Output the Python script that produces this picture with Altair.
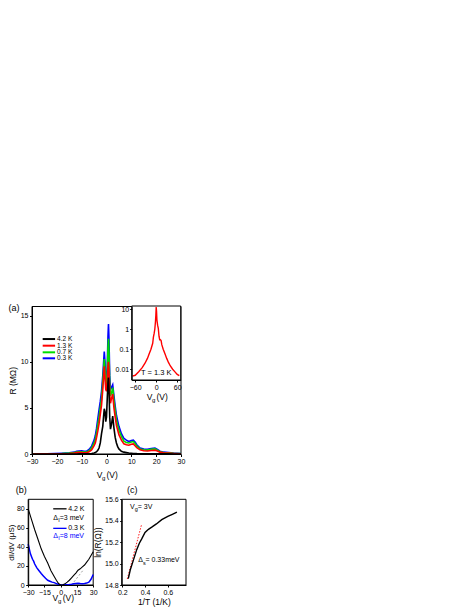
import altair as alt
import pandas as pd

# ---------------- data ----------------
# (a) main panel: R (MOhm) vs Vg (V)
V_MAIN = [-30, -27, -24, -21, -18, -15, -13, -12, -11, -10, -9, -8, -7, -6, -5,
          -4.5, -4, -3.5, -3, -2.5, -2, -1.5, -1.2, -0.9, -0.6, -0.3,
          0, 0.3, 0.6, 0.8, 1.0, 1.3, 1.6, 2.0, 2.5, 3.0, 3.5, 4.0, 4.5, 5.0,
          6, 7, 8, 9, 10, 10.8, 11.5, 12.2, 13.5,
          15, 16.5, 18, 19.5, 20.5, 21.5, 23, 25, 27, 30]
R_03K = [0.02, 0.02, 0.03, 0.05, 0.08, 0.12, 0.2, 0.3, 0.33, 0.35, 0.3, 0.3, 0.5, 0.85, 1.5,
         2.0, 2.8, 3.8, 4.8, 5.7, 6.8, 8.5, 9.8, 11.1, 10.0, 8.0,
         7.8, 9.5, 12.8, 14.1, 12.5, 8.5, 7.0, 7.2, 7.5, 6.3, 5.2, 4.2, 3.6, 3.0,
         2.2, 1.7, 1.5, 1.35, 1.45, 1.5, 1.3, 1.0, 0.65,
         0.55, 0.5, 0.6, 0.65, 0.5, 0.3, 0.2, 0.15, 0.1, 0.05]
R_07K = [0.01, 0.01, 0.02, 0.03, 0.05, 0.09, 0.15, 0.22, 0.25, 0.25, 0.2, 0.22, 0.35, 0.65, 1.2,
         1.6, 2.3, 3.2, 4.0, 5.0, 6.0, 7.8, 9.0, 10.3, 9.2, 7.5,
         7.3, 8.8, 11.5, 12.5, 11.0, 7.5, 6.3, 6.6, 7.2, 5.8, 4.7, 3.7, 3.1, 2.6,
         1.9, 1.4, 1.25, 1.2, 1.3, 1.35, 1.15, 0.85, 0.55,
         0.45, 0.42, 0.5, 0.55, 0.42, 0.25, 0.16, 0.12, 0.08, 0.04]
R_13K = [0.0, 0.01, 0.01, 0.02, 0.03, 0.05, 0.1, 0.15, 0.18, 0.15, 0.12, 0.15, 0.25, 0.45, 0.9,
         1.2, 1.8, 2.5, 3.3, 4.3, 5.3, 7.0, 8.3, 9.5, 8.3, 7.0,
         6.8, 7.8, 9.5, 10.0, 9.0, 6.5, 5.5, 6.0, 6.5, 5.0, 4.0, 3.1, 2.6, 2.1,
         1.5, 1.1, 1.0, 0.95, 1.05, 1.1, 0.9, 0.7, 0.45,
         0.35, 0.32, 0.38, 0.42, 0.32, 0.2, 0.12, 0.09, 0.06, 0.03]
R_42K = [0.0, 0.0, 0.0, 0.0, 0.0, 0.0, 0.0, 0.0, 0.01, 0.01, 0.01, 0.02, 0.03, 0.05, 0.1,
         0.15, 0.25, 0.4, 0.65, 1.2, 2.2, 3.0, 4.0, 4.9, 4.6, 3.5,
         4.0, 6.0, 7.8, 8.3, 7.0, 4.0, 2.7, 3.2, 4.1, 2.8, 1.8, 1.2, 0.8, 0.55,
         0.3, 0.2, 0.15, 0.1, 0.07, 0.05, 0.05, 0.04, 0.03,
         0.02, 0.02, 0.02, 0.02, 0.02, 0.01, 0.01, 0.01, 0.0, 0.0]
TEMP_LABELS = ["4.2 K", "1.3 K", "0.7 K", "0.3 K"]
TEMP_COLORS = ["#000000", "#ff0000", "#00dd00", "#0000ff"]

# (a) inset: R (MOhm, log) vs Vg at T = 1.3 K
V_INSET = [-68, -60, -50, -40, -32, -25, -20, -15, -10, -8, -6, -4, -2, -1, 0,
           1, 2, 4, 6, 8, 10, 12, 14, 16, 20, 25, 30, 35, 40, 47, 53, 60, 66]
R_INSET = [0.0045, 0.005, 0.0075, 0.012, 0.02, 0.035, 0.06, 0.1, 0.2, 0.4, 0.6, 1.0, 2.5, 5, 13,
           8, 3.0, 1.6, 1.1, 0.45, 0.3, 0.3, 0.27, 0.17, 0.1, 0.06, 0.035, 0.022, 0.015, 0.01,
           0.0076, 0.0055, 0.0048]

# (b) dI/dV (uS) vs Vg
V_B_42K = [-30, -27, -24, -21, -18, -15, -12, -9, -6, -4, -2, 0, 2, 4, 6, 8, 10, 12, 14, 16,
           18, 20, 22, 24, 26, 28, 30]
G_42K = [80, 69, 58, 48, 38, 30, 23, 15, 9, 5, 1.5, 0, 0.2, 1.2, 3, 5, 7.5, 10, 12.5, 15.5,
         17, 19, 21, 24, 27, 31, 35]
V_B_03K = [-30, -29, -28, -27, -26, -25, -24, -22, -20, -18, -16, -14, -12, -10, -8, -6, -4, -2,
           0, 2, 4, 6, 8, 10, 12, 14, 16, 18, 20, 22, 24, 26, 28, 30]
G_03K = [43, 38, 33, 30, 27, 25, 22, 18, 15, 12, 9.5, 7, 5, 4, 3, 2.5, 1.5, 0.5,
         0, 0, 0.2, 0.3, 0.5, 0.8, 1.2, 1.5, 1.8, 1.5, 1.3, 1.5, 2, 3, 6, 11]
FIT_B_V = [10, 21]
FIT_B_G = [0, 16]

# (c) ln R vs 1/T at Vg = 3 V
INV_T = [0.253, 0.27, 0.297, 0.327, 0.35, 0.371, 0.40, 0.43, 0.459, 0.5, 0.547, 0.6, 0.64, 0.68]
LN_R = [14.86, 14.94, 15.03, 15.13, 15.19, 15.23, 15.29, 15.32, 15.34, 15.37, 15.41, 15.44, 15.46, 15.48]
FIT_C_X = [0.244, 0.371]
FIT_C_Y = [14.856, 15.37]

# ---------------- layout helpers ----------------
FONT = "Liberation Sans"
W, H = 200, 599


def lin(domain, rng):
    return alt.Scale(domain=domain, range=rng, nice=False, zero=False)


def axis(orient, offset, values, title=None, fmt=None, tick=2.5, pad=1.5, tpad=2, tsize=None):
    kw = dict(orient=orient, offset=offset, values=values, tickSize=tick, labelPadding=pad,
              grid=False, labelOverlap=False, labelFlush=False, zindex=1)
    if title is not None:
        kw["title"] = title
        kw["titlePadding"] = tpad
        if tsize is not None:
            kw["titleFontSize"] = tsize
    else:
        kw["title"] = None
    if fmt is not None:
        kw["format"] = fmt
    return alt.Axis(**kw)


def frame(x0, x1, y0, y1, sx, sy, xaxis, yaxis, fill_opacity=0.0):
    df = pd.DataFrame({"x": [x0], "x2": [x1], "y": [y0], "y2": [y1]})
    return alt.Chart(df).mark_rect(fill="white", fillOpacity=fill_opacity, stroke="black",
                                   strokeWidth=1).encode(
        x=alt.X("x:Q", scale=sx, axis=xaxis), x2="x2:Q",
        y=alt.Y("y:Q", scale=sy, axis=yaxis), y2="y2:Q")


def curve(xs, ys, sx, sy, color, width=1.5, dash=None):
    df = pd.DataFrame({"x": xs, "y": ys})
    kw = dict(color=color, strokeWidth=width)
    if dash:
        kw["strokeDash"] = dash
    return alt.Chart(df).mark_line(**kw).encode(
        x=alt.X("x:Q", scale=sx, axis=None), y=alt.Y("y:Q", scale=sy, axis=None))


def texts(rows, sx, sy, size, dy=0, color="black", align="left"):
    df = pd.DataFrame(rows, columns=["x", "y", "t"])
    return alt.Chart(df).mark_text(align=align, baseline="middle", fontSize=size, dy=dy,
                                   font=FONT, color=color).encode(
        x=alt.X("x:Q", scale=sx, axis=None), y=alt.Y("y:Q", scale=sy, axis=None), text="t:N")


def legend_rules(x1, x2, ys, colors, sx, sy, width=2):
    df = pd.DataFrame({"x1": x1, "x2": x2, "y": ys, "c": colors})
    return alt.Chart(df).mark_rule(strokeWidth=width).encode(
        x=alt.X("x1:Q", scale=sx, axis=None), x2="x2:Q",
        y=alt.Y("y:Q", scale=sy, axis=None), color=alt.Color("c:N", scale=None))


layers = []

# ---------------- panel (a) ----------------
AX = lin([-30, 30], [24, 173])
AY = lin([0, 16], [446, 298.5])
layers.append(frame(-30, 30, 0, 16, AX, AY,
                    axis("bottom", 446 - H, [-30, -20, -10, 0, 10, 20, 30], tick=2.5, pad=1),
                    axis("left", -24, [0, 5, 10, 15], title="R (MΩ)", tpad=3)))
for r, c in [(R_03K, TEMP_COLORS[3]), (R_07K, TEMP_COLORS[2]),
             (R_13K, TEMP_COLORS[1]), (R_42K, TEMP_COLORS[0])]:
    layers.append(curve(V_MAIN, r, AX, AY, c, 1.6))
leg_y = [12.47, 11.75, 11.03, 10.38]
layers.append(legend_rules(-25.7, -20.7, leg_y, TEMP_COLORS, AX, AY))
layers.append(texts([(-19.9, y, t) for y, t in zip(leg_y, TEMP_LABELS)], AX, AY, 6.5))
layers.append(texts([(-39.5, 15.8, "(a)")], AX, AY, 9))
layers.append(texts([(-3.95, -2.3, "V"), (0.0, -2.3, "(V)")], AX, AY, 8.5))
layers.append(texts([(-1.8, -2.3, "g")], AX, AY, 6, dy=3))

# ---------------- inset ----------------
IX = lin([-70, 70], [123.7, 172.7])
IY = alt.Scale(type="log", domain=[0.0029, 14.6], range=[372, 298], nice=False)
layers.append(frame(-70, 70, 0.0029, 14.6, IX, IY,
                    axis("bottom", 372 - H, [-60, 0, 60], tick=2, pad=1.5),
                    axis("left", -123.7, [0.01, 0.1, 1, 10], fmt="~g", tick=2, pad=1),
                    fill_opacity=1.0))
layers.append(curve(V_INSET, R_INSET, IX, IY, "#ff0000", 1.4))
layers.append(texts([(0, 0.0068, "T = 1.3 K")], IX, IY, 7.5, align="center"))
layers.append(texts([(-27, 0.0004, "V"), (0.9, 0.0004, "(V)")], IX, IY, 8.5))
layers.append(texts([(-12, 0.0004, "g")], IX, IY, 6, dy=3))

# ---------------- panel (b) ----------------
BX = lin([-30, 30], [20.2, 85.2])
BY = lin([0, 90], [577, 491.3])
layers.append(frame(-30, 30, 0, 90, BX, BY,
                    axis("bottom", 577 - H, [-30, -15, 0, 15, 30], tick=2, pad=1),
                    axis("left", -20.2, [0, 20, 40, 60, 80], title="dI/dV (μS)", tpad=0.5,
                         tsize=8)))
layers.append(curve(FIT_B_V, FIT_B_G, BX, BY, "#888888", 0.8, dash=[2, 2]))
layers.append(curve(V_B_03K, G_03K, BX, BY, "#0000ff", 1.5))
layers.append(curve(V_B_42K, G_42K, BX, BY, "#000000", 1.1))
layers.append(legend_rules(-6.9, 5.4, [80, 59.5], ["#000000", "#0000ff"], BX, BY, width=1.3))
layers.append(texts([(6.9, 80, "4.2 K"), (6.9, 59.5, "0.3 K")], BX, BY, 7))
layers.append(texts([(-6.9, 70.7, "Δ"), (-0.9, 70.7, "=3 meV")], BX, BY, 7))
layers.append(texts([(-2.3, 70.7, "I")], BX, BY, 5.5, dy=2.5))
layers.append(texts([(-6.9, 51.5, "Δ"), (-0.9, 51.5, "=8 meV")], BX, BY, 7, color="#0000ff"))
layers.append(texts([(-2.3, 51.5, "I")], BX, BY, 5.5, dy=2.5, color="#0000ff"))
layers.append(texts([(-41.5, 99.8, "(b)")], BX, BY, 9))
layers.append(texts([(-7.6, -13.3, "V"), (1.9, -13.3, "(V)")], BX, BY, 8.5))
layers.append(texts([(-2.6, -13.3, "g")], BX, BY, 6, dy=3))

# ---------------- panel (c) ----------------
CX = lin([0.195, 0.76], [113.7, 178])
CY = lin([14.8, 15.6], [577, 491.3])
layers.append(frame(0.195, 0.76, 14.8, 15.6, CX, CY,
                    axis("bottom", 577 - H, [0.2, 0.4, 0.6], title="1/T (1/K)", fmt=".1f",
                         tick=2, pad=1, tpad=2),
                    axis("left", -113.7, [14.8, 15.0, 15.2, 15.4, 15.6], title="ln(R(Ω))",
                         fmt=".1f", tick=2, pad=1.5, tpad=2)))
layers.append(curve(FIT_C_X, FIT_C_Y, CX, CY, "#ff0000", 0.9, dash=[1.5, 1.5]))
layers.append(curve(INV_T, LN_R, CX, CY, "#000000", 1.4))
layers.append(texts([(0.2416, 15.69, "(c)")], CX, CY, 9))
layers.append(texts([(0.268, 15.53, "V"), (0.336, 15.53, "= 3V"),
                     (0.341, 15.033, "Δ"), (0.404, 15.033, "= 0.33meV")], CX, CY, 7))
layers.append(texts([(0.31, 15.53, "g"), (0.382, 15.033, "s")], CX, CY, 5.5, dy=2.5))

chart = (
    alt.layer(*layers)
    .resolve_scale(x="independent", y="independent")
    .resolve_axis(x="independent", y="independent")
    .properties(width=W, height=H, autosize=alt.AutoSizeParams(type="none"), padding=0)
    .configure(font=FONT)
    .configure_axis(labelFont=FONT, titleFont=FONT, labelFontSize=7, titleFontSize=8.5,
                    titleFontWeight="normal", labelColor="black", titleColor="black",
                    tickColor="black", domainColor="black", grid=False, minExtent=0,
                    labelFlush=False, labelOverlap=False, tickWidth=1, domainWidth=1)
    .configure_view(stroke=None)
)

chart.save("out.html", embed_options={"renderer": "svg", "actions": False})
